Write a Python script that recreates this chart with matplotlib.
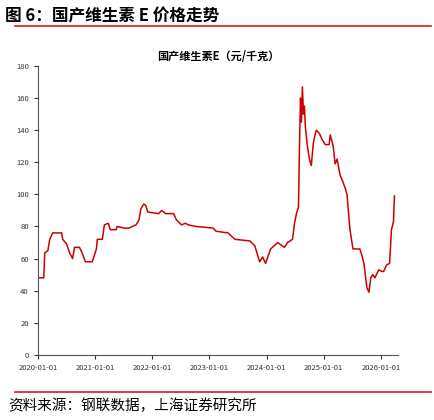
import matplotlib
matplotlib.use("Agg")
import matplotlib.pyplot as plt
import pandas as pd

plt.rcParams['font.family'] = ['Noto Sans CJK SC', 'DejaVu Sans']

dates = ["2020-01-01","2020-02-08","2020-02-14","2020-03-05","2020-03-17","2020-04-05","2020-06-01","2020-06-08",
 "2020-07-03","2020-07-22","2020-08-10","2020-08-22","2020-09-23","2020-10-12","2020-10-31","2020-12-14",
 "2021-01-09","2021-01-15","2021-02-16","2021-03-01","2021-03-26","2021-04-08","2021-05-15","2021-05-21",
 "2021-07-04","2021-08-05","2021-09-19","2021-10-08","2021-10-20","2021-11-08","2021-11-21","2021-12-03",
 "2022-02-11","2022-03-02","2022-03-28","2022-05-17","2022-06-05","2022-07-07","2022-07-31","2022-08-19",
 "2022-10-09","2023-01-25","2023-02-13","2023-04-30","2023-06-13","2023-09-16","2023-10-18","2023-11-18",
 "2023-12-07","2023-12-26","2024-01-27","2024-03-12","2024-04-25","2024-05-14","2024-06-15","2024-06-28",
 "2024-07-10","2024-07-23","2024-07-29","2024-08-05","2024-08-11","2024-08-17","2024-08-24","2024-08-30",
 "2024-09-05","2024-09-18","2024-10-01","2024-10-13","2024-10-26","2024-11-01","2024-11-14","2024-12-03",
 "2024-12-22","2025-01-10","2025-02-04","2025-02-11","2025-03-02","2025-03-14","2025-03-27","2025-04-09",
 "2025-04-15","2025-04-28","2025-05-17","2025-05-29","2025-06-17","2025-07-06","2025-08-19","2025-09-01",
 "2025-09-14","2025-10-03","2025-10-16","2025-10-28","2025-11-10","2025-11-23","2025-12-18","2026-01-06",
 "2026-01-18","2026-02-06","2026-02-25","2026-03-09","2026-03-22","2026-03-28"]
prices = [48,48,63.5,65,72,76,76,72,
 69,63.5,60,67,67,63,58,58,
 66,72,72,81,82,78,78,80,
 79,79,81,84,91,94,93,89,
 88,90,88,88,84,81,82,81,
 80,79,77,76,72,71,68,58,
 61,57,66,70,67,70,72,82,
 88,92,128,160,145,167,150,155,
 142,130,122,118,132,135,140,138,
 134,131,131,137,130,119,122,115,
 112,109,104,100,78,66,66,62,
 57,42,39,48,50,48,53,52,
 52,56,57,78,83,99]
tick_dates = ["2020-01-01","2021-01-01","2022-01-01","2023-01-01","2024-01-01","2025-01-01","2026-01-01"]
yticks = [0,20,40,60,80,100,120,140,160,180]

x = pd.to_datetime(dates)
fig = plt.figure(figsize=(4.35, 4.2), dpi=100)
fig.text(0.012, 0.962, "图 6：国产维生素 E 价格走势", fontsize=12, fontweight='bold', va='center')
fig.add_artist(plt.Line2D([0.035, 0.99], [0.938, 0.938], color='#d9181f', lw=1.2))
fig.add_artist(plt.Line2D([0.035, 0.99], [0.067, 0.067], color='#d9181f', lw=1.2))
fig.text(0.02, 0.035, "资料来源：钢联数据，上海证券研究所", fontsize=10.5, style='italic', va='center')

ax = fig.add_axes([0.087, 0.155, 0.828, 0.688])
ax.plot(x, prices, color='#cc0000', lw=1.1)
ax.set_ylim(0, 180)
ax.set_yticks(yticks)
ax.set_xlim(pd.Timestamp("2020-01-01"), pd.Timestamp("2026-04-20"))
ax.set_xticks(pd.to_datetime(tick_dates))
ax.set_xticklabels(tick_dates)
ax.tick_params(labelsize=5.5, length=3, width=0.8, colors='#333333')
for s in ['top', 'right']:
    ax.spines[s].set_visible(False)
for s in ['left', 'bottom']:
    ax.spines[s].set_color('#555555')
ax.set_title("国产维生素E（元/千克）", fontsize=8, fontweight='bold', pad=4)
fig.savefig("out.png", dpi=100)
